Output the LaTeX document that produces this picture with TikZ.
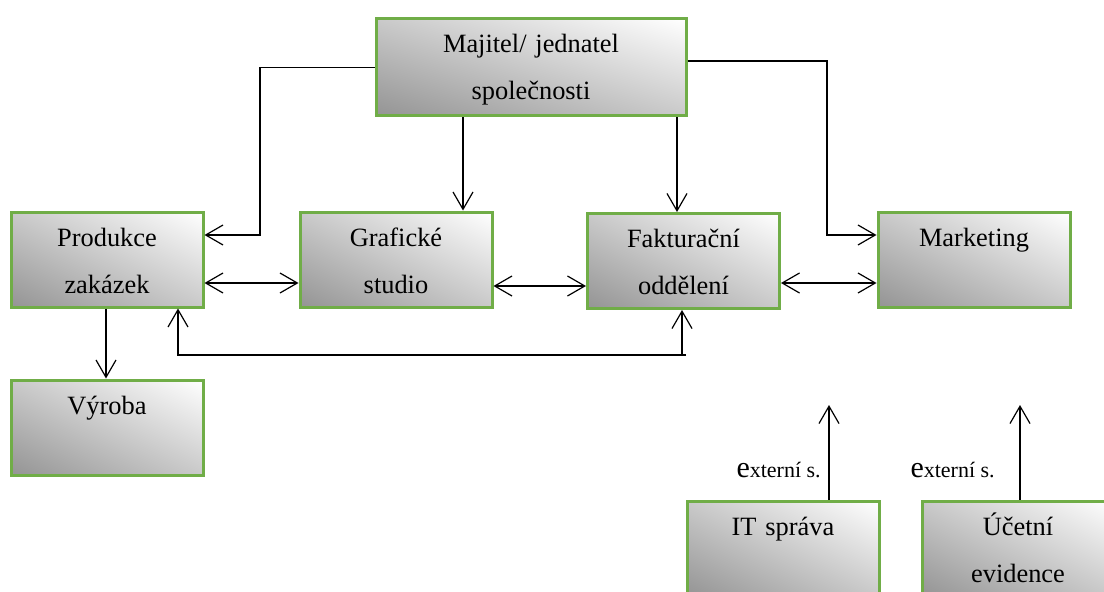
\documentclass[tikz,border=0pt]{standalone}
\usepackage{fontspec}
\setmainfont{Liberation Serif}
\usetikzlibrary{arrows.meta,positioning,shapes}
\usepackage{xcolor}
\definecolor{boxgreen}{HTML}{70AD47}
% gray lower left corner, white upper right corner
\pgfdeclarefunctionalshading{boxshade}{\pgfpoint{0bp}{0bp}}{\pgfpoint{100bp}{100bp}}{}{
  add 50 sub 100 div
  dup 0 lt {pop 0} if
  dup 1 gt {pop 1} if
  0.42 mul 0.58 add
  dup dup
}

\begin{document}
\begin{tikzpicture}[x=0.75pt, y=-0.75pt,
    box/.style={
    rectangle,
    draw=boxgreen,
    line width=2.25pt,
    shade,
    shading=boxshade,
    inner sep=0pt,
    text width=144pt,
    align=center,
    text height=25.5pt,
    text depth=45.75pt,
    font=\fontsize{19.8pt}{35.25pt}\selectfont
},
    popis/.style={anchor=base east, inner sep=0pt, font=\fontsize{16.5pt}{20pt}\selectfont},
    >={Straight Barb[length=13pt,width=15pt]},
    spojnice/.style={line width=0.9pt}
]
    \useasboundingbox (0,0) rectangle (1104,592);
    \clip (0,0) rectangle (1104,592);

    \node (majitel) [box, text width=232.5pt, text depth=47.25pt] at (531, 67.5)
    {
        Majitel/ jednatel\\společnosti
    };

    \node (produkce_zakazek) [box] at (107, 259.5)
    {
        Produkce\\zakázek
    };

    \node (graficke_studio) [box] at (396, 259.5)
    {
        Grafické\\studio
    };

    \node (fakturacni_oddeleni) [box] at (683.5, 261)
    {
        Fakturační\\oddělení
    };

    \node (marketing) [box] at (974, 259.5)
    {
        Marketing
    };

    \node (vyroba) [box] at (107, 427.5)
    {
        Výroba
    };

    \node (it_sprava) [box] at (783, 548.5)
    {
        IT správa
    };

    \node (ucetni_evidence) [box] at (1018, 548.5)
    {
        Účetní\\evidence
    };

    \node (it_popis) [popis] at (821, 477)
    {
        {\fontsize{22.5pt}{24pt}\selectfont e}xterní s.
    };

    \node (ucetni_popis) [popis] at (995, 477)
    {
        {\fontsize{22.5pt}{24pt}\selectfont e}xterní s.
    };

    \coordinate (spoj_dole) at (686, 355);
    \coordinate (it_konec) at (829, 405);
    \coordinate (ucetni_konec) at (1020, 405);


    \draw[->, spojnice] (majitel.west) -| (260, 235) -- (produkce_zakazek.east |- 0,235);
    \draw[->, spojnice] (majitel.south -| 463,0) -- (graficke_studio.north -| 463,0);
    \draw[->, spojnice] (majitel.south -| 677,0) -- (fakturacni_oddeleni.north -| 677,0);
    \draw[->, spojnice] (majitel.east |- 0,61) -| (827, 235) -- (marketing.west |- 0,235);


    \draw[<->, spojnice] (produkce_zakazek.east |- 0,283) -- (graficke_studio.west |- 0,283);
    \draw[<->, spojnice] (graficke_studio.east |- 0,286) -- (fakturacni_oddeleni.west |- 0,286);
    \draw[<->, spojnice] (fakturacni_oddeleni.east |- 0,283) -- (marketing.west |- 0,283);

    \draw[->, spojnice] (produkce_zakazek.south -| 106,0) -- (vyroba.north -| 106,0);
    \draw[->, spojnice] (spoj_dole) -- (178, 355) -- (produkce_zakazek.south -| 178,0);
    \draw[->, spojnice] (spoj_dole -| 682,0) -- (fakturacni_oddeleni.south -| 682,0);

    \draw[->, spojnice] (it_sprava.north -| it_konec) -- (it_konec);
    \draw[->, spojnice] (ucetni_evidence.north -| ucetni_konec) -- (ucetni_konec);
\end{tikzpicture}
\end{document}
